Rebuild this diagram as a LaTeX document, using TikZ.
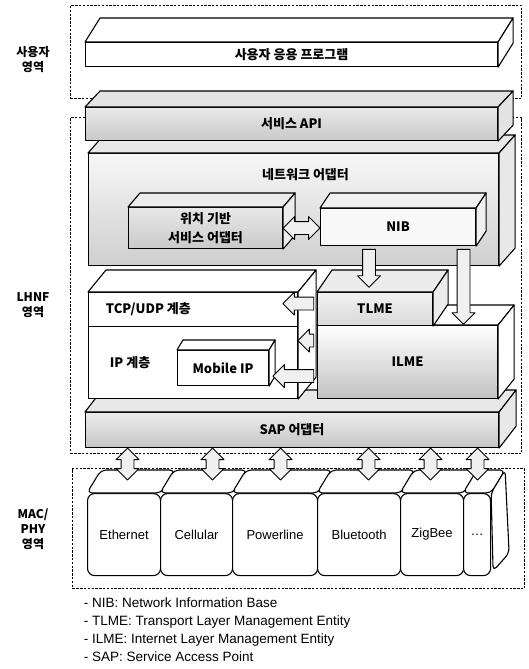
\documentclass[tikz,border=0pt]{standalone}
\usepackage{fontspec}
\setmainfont{Liberation Sans}
\newfontfamily\kr{Noto Sans CJK KR}
\usetikzlibrary{calc,shapes.arrows}

\newcommand\topface[4]{%
  \filldraw[fill=#4] (#1.north west) -- ++(#2,#3) -- ([shift={(#2,#3)}]#1.north east) -- (#1.north east) -- cycle;}
\newcommand\sideface[5]{%
  \filldraw[fill=#5] (#1.north east) -- ++(#3,#4) -- ([shift={(#3,#4)}]#2.south east) -- (#2.south east) -- cycle;}
\newcommand\slab[4]{\topface{#1}{#2}{#3}{#4}\sideface{#1}{#1}{#2}{#3}{#4}}
\newcommand\fatlink[4][]{%
  \path let \p1=($(#4)-(#3)$), \n1={veclen(\x1,\y1)} in
    (#3) -- (#4) node[midway,sloped,allow upside down,blockarrow,#1,minimum height=\n1] (#2) {};}

\begin{document}
\begin{tikzpicture}[x=1pt,y=-1pt,line width=1.1pt,line join=round,
  zone/.style={draw,dash pattern=on 2.4pt off 1.4pt,line width=1pt,anchor=north west,inner sep=0pt},
  face/.style={draw,anchor=north west,inner sep=0pt,align=center,font=\kr\bfseries\fontsize{13}{19}\selectfont},
  boxtext/.style={font=\kr\bfseries\fontsize{13}{19}\selectfont},
  zonelabel/.style={align=center,font=\kr\bfseries\fontsize{12}{15}\selectfont},
  macbox/.style={draw,fill=white,rounded corners=7pt,anchor=north west,inner sep=0pt,minimum height=82,font=\fontsize{13}{15}\selectfont},
  blockarrow/.style={single arrow,draw,fill=gray!12,line width=.9pt,inner xsep=0pt,inner ysep=6pt,outer sep=0pt,minimum width=22,single arrow head extend=5pt},
  twoway/.style={double arrow,double arrow head extend=5pt}]
\useasboundingbox (0,0) rectangle (529,669);
% regions
\node[zone,minimum width=451,minimum height=93] (userzone) at (70,5) {};
\node[zone,minimum width=451,minimum height=336] (lhnfzone) at (70,117) {};
\node[zone,minimum width=452,minimum height=120] (maczone) at (72,468) {};
\node[zonelabel] (userlbl) at (33,60) {사용자\\영역};
\node[zonelabel] (lhnflbl) at (33,305) {LHNF\\영역};
\node[zonelabel] (maclbl) at (33,529) {MAC/\\PHY\\영역};
% user area
\node[face,fill=white,minimum width=412,minimum height=24] (app) at (85,42) {사용자 응용 프로그램};
\slab{app}{15}{-24}{white}
% LHNF area
\node[face,top color=gray!6,bottom color=gray!38,minimum width=410,minimum height=112] (adapter) at (88,153) {};
\slab{adapter}{16}{-18}{gray!18}
\node[boxtext] (adlbl) at ([shift={(12,22)}]adapter.north) {네트워크 어댑터};
\node[face,top color=gray!18,bottom color=gray!42,minimum width=412,minimum height=33] (api) at (85,107) {서비스 API};
\slab{api}{15}{-16}{gray!22}
\node[face,top color=gray!18,bottom color=gray!42,minimum width=154,minimum height=41] (loc) at (128,207) {위치 기반\\서비스 어댑터};
\slab{loc}{12}{-14}{gray!15}
\node[face,fill=gray!5,minimum width=155,minimum height=37] (nib) at (320,208) {NIB};
\slab{nib}{10}{-15}{gray!12}
\node[face,top color=gray!15,bottom color=gray!45,minimum width=413,minimum height=35] (sap) at (85,412) {SAP 어댑터};
\slab{sap}{17}{-22}{gray!18}
\node[face,fill=white,minimum width=209,minimum height=34] (tcp) at (88,292) {};
\node[face,fill=white,minimum width=209,minimum height=72] (ip) at (88,326) {};
\topface{tcp}{18}{-22}{white}
\sideface{tcp}{ip}{18}{-22}{white}
\node[boxtext,anchor=west] (tcplbl) at ([xshift=14pt]tcp.west) {TCP/UDP 계층};
\node[boxtext,anchor=west] (iplbl) at ([xshift=18pt]ip.west) {IP 계층};
\node[face,fill=white,minimum width=91,minimum height=35] (mobile) at (177,350) {Mobile IP};
\slab{mobile}{6}{-10}{white}
\node[face,top color=white,bottom color=gray!48,minimum width=180,minimum height=73] (ilme) at (317,325) {ILME};
\slab{ilme}{16}{-20}{white}
\node[face,top color=gray!10,bottom color=gray!30,minimum width=115,minimum height=33] (tlme) at (317,292) {TLME};
\slab{tlme}{15}{-22}{gray!15}
% arrows inside LHNF
\coordinate (nibleft) at (loc.east -| nib.west);
\coordinate (tlin) at ([shift={(-6,-8)}]tlme.north);
\coordinate (nibout) at (nib.south -| tlin);
\coordinate (ilin) at ([shift={(56,-4)}]ilme.north);
\coordinate (nibdown) at (nib.south -| ilin);
\coordinate (tcpin) at ([shift={(-12,-6)}]tcp.east);
\coordinate (tlmeout) at (tlme.west |- tcpin);
\coordinate (ipin) at ([shift={(3,-22)}]ip.east);
\coordinate (ilmeout) at (ilme.west |- ipin);
\coordinate (mobin) at ([shift={(7,8)}]mobile.east);
\coordinate (ilmemob) at (ilme.west |- mobin);
\fatlink[twoway]{locnib}{loc.east}{nibleft}
\fatlink{nibtl}{nibout}{tlin}
\fatlink{nibil}{nibdown}{ilin}
\fatlink{tltcp}{tlmeout}{tcpin}
\fatlink{ilip}{ilmeout}{ipin}
\fatlink{ilmob}{ilmemob}{mobin}
% MAC/PHY area
\node[macbox,minimum width=73] (eth) at (87,493) {Ethernet};
\node[macbox,minimum width=72] (cell) at (160,493) {Cellular};
\node[macbox,minimum width=85] (power) at (232,493) {Powerline};
\node[macbox,minimum width=83] (blue) at (317,493) {Bluetooth};
\node[macbox,minimum width=63] (zig) at (400,493) {ZigBee};
\node[macbox,minimum width=27] (etc) at (463,493) {…};
\foreach \m in {eth,cell,power,blue,zig,etc}
  \filldraw[fill=white,rounded corners=5pt] (\m.north west) -- ++(14,-23) -- ([shift={(14,-23)}]\m.north east) -- (\m.north east) -- cycle;
\filldraw[fill=white,rounded corners=5pt] (etc.north east) -- ++(14,-23) -- ++(4,83) -- ([shift={(2,-5)}]etc.south east) -- cycle;
\foreach \m/\dx in {eth/3.5,cell/16,power/5.5,blue/9.5,zig/-1.5,etc/0.5}{
  \coordinate (in\m) at ([shift={(\dx,-13)}]\m.north);
  \coordinate (out\m) at (sap.south -| in\m);
  \fatlink[twoway]{sap\m}{out\m}{in\m}}
% legend
\node[anchor=north west,align=left,font=\fontsize{13.5}{18}\selectfont] (legend) at (80,594) {- NIB: Network Information Base\\- TLME: Transport Layer Management Entity\\- ILME: Internet Layer Management Entity\\- SAP: Service Access Point};
\end{tikzpicture}
\end{document}
